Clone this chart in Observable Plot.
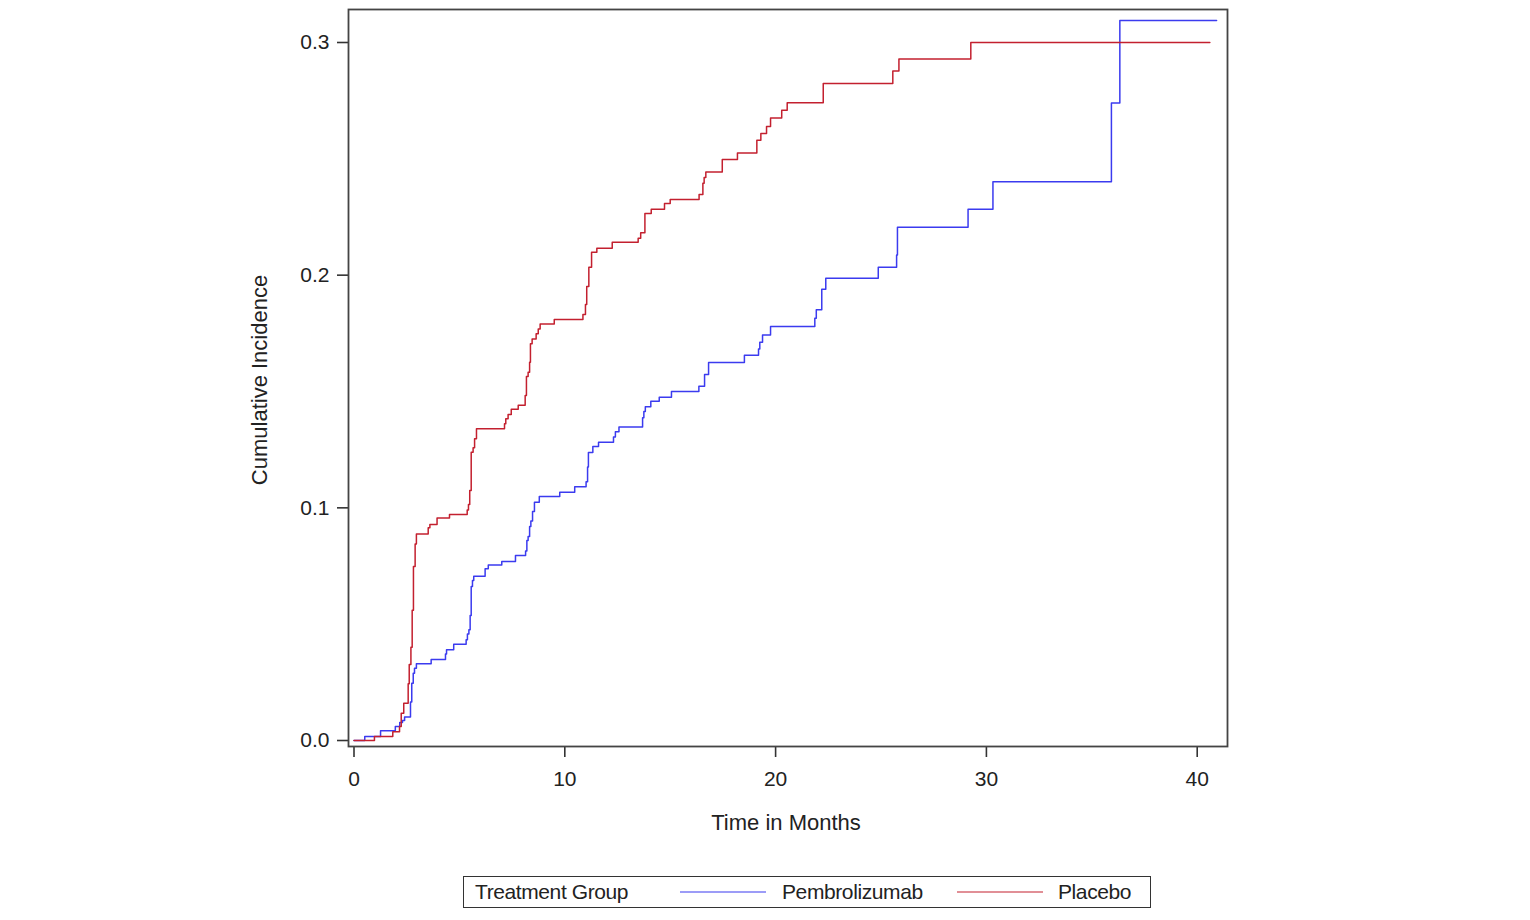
<!DOCTYPE html>
<html>
<head>
<meta charset="utf-8">
<script src="https://cdn.jsdelivr.net/npm/d3@7"></script>
<script src="https://cdn.jsdelivr.net/npm/@observablehq/plot@0.6"></script>
<style>
  html, body { margin: 0; padding: 0; background: #fff; }
  #wrap { position: relative; width: 1530px; height: 920px; font-family: "Liberation Sans", Arial, sans-serif; }
  #legend { position: absolute; left: 463px; top: 876px; width: 686px; height: 30px;
            border: 1.5px solid #333; font-size: 21px; color: #222; letter-spacing: -0.4px; }
  #legend span { position: absolute; top: 50%; transform: translateY(-50%); white-space: nowrap; }
  #legend .sw { height: 0; border-top: 1.5px solid; }
</style>
</head>
<body>
<div id="wrap"><div id="chart"></div><div id="legend"></div></div>
<script>
// ---- data ----
const groups = ["Pembrolizumab", "Placebo"];
const colors = ["#3b3bef", "#c3202f"];

const xTicks = [0, 10, 20, 30, 40];
const yTicks = [0.0, 0.1, 0.2, 0.3];

const xLabel = "Time in Months";
const yLabel = "Cumulative Incidence";
const legendTitle = "Treatment Group";

const pembroTime = [0, 0.51, 1.26, 1.96, 2.17, 2.30, 2.40, 2.68, 2.74, 2.81, 2.87, 2.96, 3.66, 4.34, 4.39, 4.73, 5.32, 5.38, 5.45, 5.51, 5.56, 5.62, 5.68, 6.22, 6.37, 7.01, 7.66, 8.14, 8.20, 8.26, 8.33, 8.39, 8.47, 8.56, 8.79, 9.76, 10.47, 11.01, 11.08, 11.12, 11.33, 11.60, 12.31, 12.40, 12.57, 13.69, 13.75, 13.82, 14.08, 14.48, 15.06, 16.36, 16.63, 16.82, 18.52, 19.19, 19.25, 19.38, 19.76, 21.86, 21.93, 22.19, 22.38, 24.87, 25.74, 25.78, 29.13, 30.31, 35.93, 36.33, 40.92];
const pembroCI = [0, 0.0017, 0.0042, 0.0060, 0.0077, 0.0086, 0.0101, 0.0165, 0.0246, 0.0289, 0.0311, 0.0330, 0.0348, 0.0372, 0.0390, 0.0414, 0.0433, 0.0458, 0.0476, 0.0537, 0.0662, 0.0688, 0.0706, 0.0738, 0.0754, 0.0769, 0.0795, 0.0814, 0.0860, 0.0877, 0.0920, 0.0943, 0.0984, 0.1024, 0.1049, 0.1067, 0.1091, 0.1112, 0.1175, 0.1238, 0.1264, 0.1282, 0.1304, 0.1327, 0.1347, 0.1387, 0.1414, 0.1434, 0.1458, 0.1475, 0.1500, 0.1523, 0.1573, 0.1625, 0.1656, 0.1683, 0.1712, 0.1743, 0.1779, 0.1815, 0.1851, 0.1940, 0.1987, 0.2034, 0.2087, 0.2206, 0.2283, 0.2402, 0.2740, 0.3095, 0.3095];

const placeboTime = [0, 0.97, 1.84, 2.16, 2.24, 2.36, 2.57, 2.62, 2.70, 2.76, 2.82, 2.90, 2.96, 3.52, 3.60, 3.94, 4.53, 5.37, 5.43, 5.49, 5.56, 5.65, 5.72, 5.81, 7.14, 7.20, 7.31, 7.46, 7.79, 8.12, 8.18, 8.26, 8.33, 8.37, 8.45, 8.64, 8.74, 8.83, 9.50, 10.86, 10.98, 11.04, 11.14, 11.27, 11.52, 12.25, 13.48, 13.60, 13.80, 14.10, 14.73, 15.00, 16.37, 16.55, 16.61, 16.69, 17.47, 18.19, 19.11, 19.30, 19.57, 19.76, 20.29, 20.55, 22.26, 25.56, 25.85, 29.26, 40.60];
const placeboCI = [0, 0.0017, 0.0038, 0.0060, 0.0117, 0.0160, 0.0244, 0.0327, 0.0401, 0.0560, 0.0748, 0.0845, 0.0888, 0.0914, 0.0928, 0.0956, 0.0971, 0.0991, 0.1014, 0.1074, 0.1239, 0.1258, 0.1297, 0.1340, 0.1361, 0.1383, 0.1401, 0.1424, 0.1441, 0.1483, 0.1564, 0.1583, 0.1626, 0.1705, 0.1726, 0.1748, 0.1769, 0.1790, 0.1809, 0.1831, 0.1874, 0.1951, 0.2034, 0.2099, 0.2116, 0.2142, 0.2159, 0.2182, 0.2265, 0.2283, 0.2308, 0.2325, 0.2347, 0.2395, 0.2420, 0.2443, 0.2497, 0.2525, 0.2580, 0.2609, 0.2639, 0.2675, 0.2709, 0.2741, 0.2824, 0.2877, 0.2929, 0.3000, 0.3000];

// ---- build table ----
const rows = [];
pembroTime.forEach((t, i) => rows.push({group: groups[0], time: t, ci: pembroCI[i]}));
placeboTime.forEach((t, i) => rows.push({group: groups[1], time: t, ci: placeboCI[i]}));

const font = "'Liberation Sans', Arial, sans-serif";

const chart = Plot.plot({
  width: 1530,
  height: 860,
  marginLeft: 348,
  marginRight: 303,
  marginTop: 9,
  marginBottom: 114,
  style: {fontFamily: font, fontSize: "21px", color: "#222", background: "white", overflow: "visible"},
  x: {domain: [-0.2609, 41.437]},
  y: {domain: [-0.002577, 0.314183]},
  color: {domain: groups, range: colors},
  marks: [
    Plot.axisX({ticks: xTicks, tickSize: 11, tickPadding: 14, tickFormat: d3.format("d"), label: null, stroke: "#333", strokeWidth: 1.6, fontSize: 21}),
    Plot.axisY({ticks: yTicks, tickSize: 11, tickPadding: 8, tickFormat: d3.format(".1f"), label: null, stroke: "#333", strokeWidth: 1.6, fontSize: 21}),
    Plot.line(rows, {x: "time", y: "ci", z: "group", stroke: "group", curve: "step-after", strokeWidth: 1.5}),
    Plot.frame({stroke: "#444", strokeWidth: 1.8}),
    Plot.text([xLabel], {frameAnchor: "bottom", dy: 76, dx: -2, fontSize: 22, fill: "#222", textAnchor: "middle", lineAnchor: "middle"}),
    Plot.text([yLabel], {frameAnchor: "left", dx: -89, dy: 2, rotate: -90, fontSize: 22, fill: "#222", textAnchor: "middle", lineAnchor: "middle"})
  ]
});
document.getElementById("chart").appendChild(chart);

// ---- legend ----
const lg = document.getElementById("legend");
const items = [
  {kind: "text", text: legendTitle, left: 11},
  {kind: "sw", color: colors[0], left: 216, width: 86},
  {kind: "text", text: groups[0], left: 318},
  {kind: "sw", color: colors[1], left: 493, width: 86},
  {kind: "text", text: groups[1], left: 594}
];
items.forEach(it => {
  const s = document.createElement("span");
  s.style.left = it.left + "px";
  if (it.kind === "text") { s.textContent = it.text; }
  else { s.className = "sw"; s.style.width = it.width + "px"; s.style.borderTopColor = it.color; }
  lg.appendChild(s);
});
</script>
</body>
</html>
